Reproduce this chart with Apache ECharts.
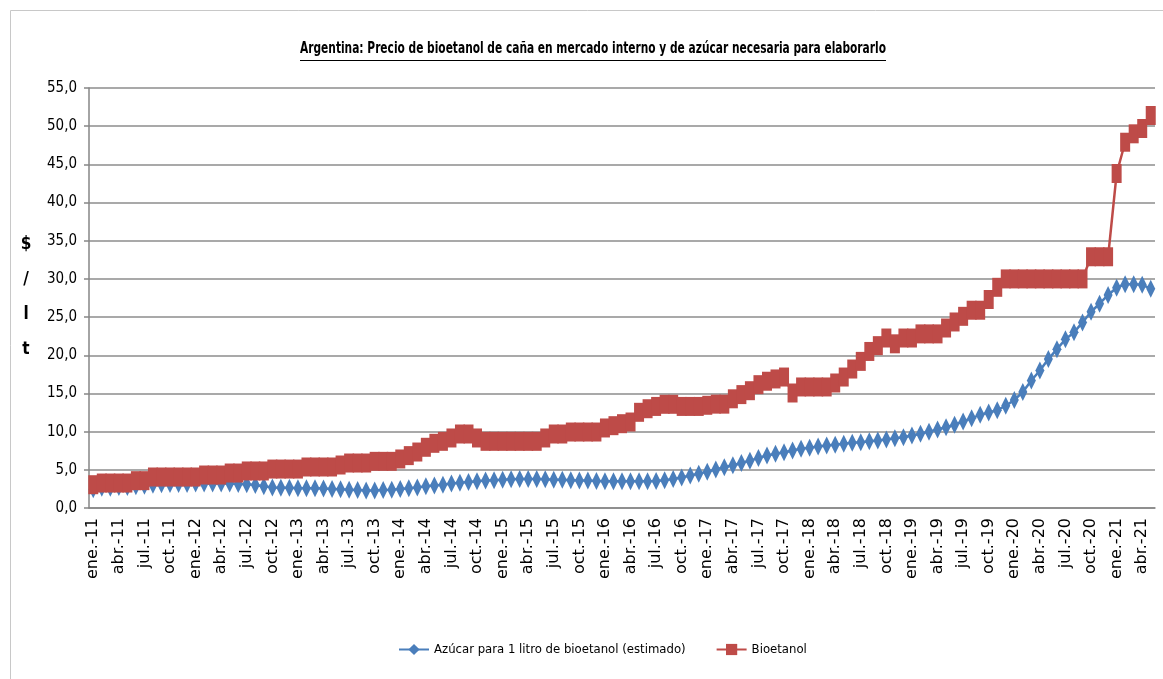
<!DOCTYPE html>
<html>
<head>
<meta charset="utf-8">
<script src="https://cdn.jsdelivr.net/npm/echarts@6/dist/echarts.min.js"></script>
<style>
  html, body { margin: 0; padding: 0; background: #fff; }
  #chart { width: 1163px; height: 679px; }
</style>
</head>
<body>
<div id="chart"></div>
<script>
// monthly categories ene.-11 .. may.-21
const monthNames = ['ene.', 'feb.', 'mar.', 'abr.', 'may.', 'jun.', 'jul.', 'ago.', 'sep.', 'oct.', 'nov.', 'dic.'];
const firstYear = 11;
const monthCount = 125;
const categories = [];
for (let i = 0; i < monthCount; i++) {
  categories.push(monthNames[i % 12] + '-' + (firstYear + Math.floor(i / 12)));
}

const yTicks = [0, 5, 10, 15, 20, 25, 30, 35, 40, 45, 50, 55];

// Azúcar para 1 litro de bioetanol (estimado), $/lt
const azucar = [
  2.45, 2.65, 2.65, 2.75, 2.75, 2.85, 2.9, 3.05, 3.1, 3.15, 3.15, 3.15,
  3.2, 3.2, 3.2, 3.2, 3.2, 3.15, 3.1, 3.0, 2.85, 2.7, 2.65, 2.65,
  2.6, 2.6, 2.6, 2.55, 2.5, 2.45, 2.4, 2.35, 2.3, 2.3, 2.35, 2.4,
  2.5, 2.6, 2.7, 2.85, 2.95, 3.05, 3.2, 3.3, 3.4, 3.5, 3.6, 3.65,
  3.7, 3.75, 3.8, 3.8, 3.8, 3.75, 3.7, 3.7, 3.65, 3.6, 3.6, 3.55,
  3.5, 3.5, 3.5, 3.5, 3.5, 3.5, 3.55, 3.65, 3.8, 4.0, 4.25, 4.5,
  4.75, 5.05, 5.35, 5.6, 5.9, 6.2, 6.55, 6.88, 7.1, 7.3, 7.53, 7.75,
  7.88, 8.05, 8.18, 8.27, 8.4, 8.53, 8.62, 8.75, 8.84, 8.97, 9.14, 9.27,
  9.5, 9.72, 10.0, 10.28, 10.58, 10.9, 11.33, 11.76, 12.2, 12.5, 12.8, 13.4,
  14.14, 15.2, 16.7, 18.0, 19.5, 20.8, 22.1, 23.0, 24.3, 25.7, 26.75, 27.9,
  28.85, 29.3, 29.3, 29.25, 28.7
];

// Bioetanol, $/lt
const bioetanol = [
  3.05, 3.27, 3.27, 3.27, 3.27, 3.58, 3.58, 4.06, 4.06, 4.06, 4.06, 4.06,
  4.06, 4.32, 4.32, 4.32, 4.58, 4.58, 4.85, 4.85, 4.85, 5.1, 5.1, 5.1,
  5.1, 5.37, 5.37, 5.37, 5.37, 5.63, 5.89, 5.89, 5.89, 6.11, 6.11, 6.11,
  6.42, 6.86, 7.33, 7.95, 8.47, 8.73, 9.17, 9.69, 9.69, 9.17, 8.73, 8.73,
  8.73, 8.73, 8.73, 8.73, 8.73, 9.17, 9.69, 9.69, 9.95, 9.95, 9.95, 9.95,
  10.48, 10.78, 11.04, 11.26, 12.53, 13.0, 13.3, 13.58, 13.58, 13.3, 13.3, 13.3,
  13.45, 13.6, 13.6, 14.3, 14.85, 15.36, 16.15, 16.6, 16.9, 17.15, 15.06, 15.85,
  15.85, 15.85, 15.85, 16.37, 17.15, 18.2, 19.2, 20.5, 21.26, 22.26, 21.5, 22.26,
  22.26, 22.8, 22.8, 22.8, 23.57, 24.36, 25.1, 25.9, 25.9, 27.3, 28.9, 30.0,
  30.0, 30.0, 30.0, 30.0, 30.0, 30.0, 30.0, 30.0, 30.0, 32.9, 32.9, 32.9,
  43.8, 47.9, 49.0, 49.7, 51.4
];

const titleText = 'Argentina: Precio de bioetanol de caña en mercado interno y de azúcar necesaria para elaborarlo';
const narrow = '"Liberation Sans Narrow", "DejaVu Sans Condensed", sans-serif';
const blue = '#4a7ebb';
const red = '#be4b48';

// measure title so it can be squeezed to the reference width, underline included
const ctx = document.createElement('canvas').getContext('2d');
ctx.font = 'bold 15px ' + narrow;
const titleW = ctx.measureText(titleText).width;
const titleX = 593;
const titleTarget = 586;

var chartDom = document.getElementById('chart');
var myChart = echarts.init(chartDom);
var option;

option = {
  animation: false,
  backgroundColor: '#fff',
  textStyle: { fontFamily: narrow },
  graphic: [
    {
      type: 'rect',
      shape: { x: 10.5, y: 10.5, width: 1170, height: 700 },
      style: { fill: 'none', stroke: '#c8c8c8', lineWidth: 1 },
      silent: true
    },
    {
      type: 'text',
      x: titleX,
      y: 42,
      scaleX: titleTarget / titleW,
      style: {
        text: titleText,
        font: 'bold 15px ' + narrow,
        fill: '#000',
        align: 'center'
      }
    },
    {
      type: 'line',
      shape: { x1: titleX - titleTarget / 2, y1: 60.5, x2: titleX + titleTarget / 2, y2: 60.5 },
      style: { stroke: '#000', lineWidth: 1.2 }
    },
    {
      type: 'text',
      x: 26,
      y: 227,
      style: {
        text: '$\n/\nl\nt',
        font: 'bold 17px ' + narrow,
        fill: '#000',
        align: 'center',
        lineHeight: 35
      }
    }
  ],
  legend: {
    bottom: 18,
    left: 393,
    itemWidth: 30,
    itemHeight: 14,
    itemGap: 30,
    textStyle: { fontSize: 13, color: '#000', fontFamily: narrow },
    data: ['Azúcar para 1 litro de bioetanol (estimado)', 'Bioetanol']
  },
  grid: {
    left: 89,
    right: 8,
    top: 88,
    bottom: 171
  },
  xAxis: {
    type: 'category',
    data: categories,
    boundaryGap: true,
    axisLine: { lineStyle: { color: '#868686', width: 1.5 } },
    axisTick: { interval: 2, length: 6, lineStyle: { color: '#868686', width: 1.5 } },
    axisLabel: {
      interval: 2,
      rotate: 90,
      margin: 10,
      color: '#000',
      fontSize: 16,
      fontFamily: '"DejaVu Sans", Verdana, sans-serif'
    },
    splitLine: { show: false }
  },
  yAxis: {
    type: 'value',
    min: yTicks[0],
    max: yTicks[yTicks.length - 1],
    interval: 5,
    axisLine: { show: true, lineStyle: { color: '#868686', width: 1.5 } },
    axisTick: { show: true, length: 5, lineStyle: { color: '#868686', width: 1.5 } },
    axisLabel: {
      margin: 12,
      color: '#000',
      fontSize: 15,
      fontFamily: narrow,
      formatter: function (v) {
        return v.toFixed(1).replace('.', ',');
      }
    },
    splitLine: { lineStyle: { color: '#8c8c8c', width: 1.5 } }
  },
  series: [
    {
      name: 'Azúcar para 1 litro de bioetanol (estimado)',
      type: 'line',
      data: azucar,
      symbol: 'diamond',
      symbolSize: [9, 18],
      showAllSymbol: true,
      color: blue,
      lineStyle: { color: blue, width: 2.5 },
      itemStyle: { color: blue }
    },
    {
      name: 'Bioetanol',
      type: 'line',
      data: bioetanol,
      symbol: 'rect',
      symbolSize: [10, 19],
      showAllSymbol: true,
      color: red,
      lineStyle: { color: red, width: 2.5 },
      itemStyle: { color: red }
    }
  ]
};

option && myChart.setOption(option);
</script>
</body>
</html>
